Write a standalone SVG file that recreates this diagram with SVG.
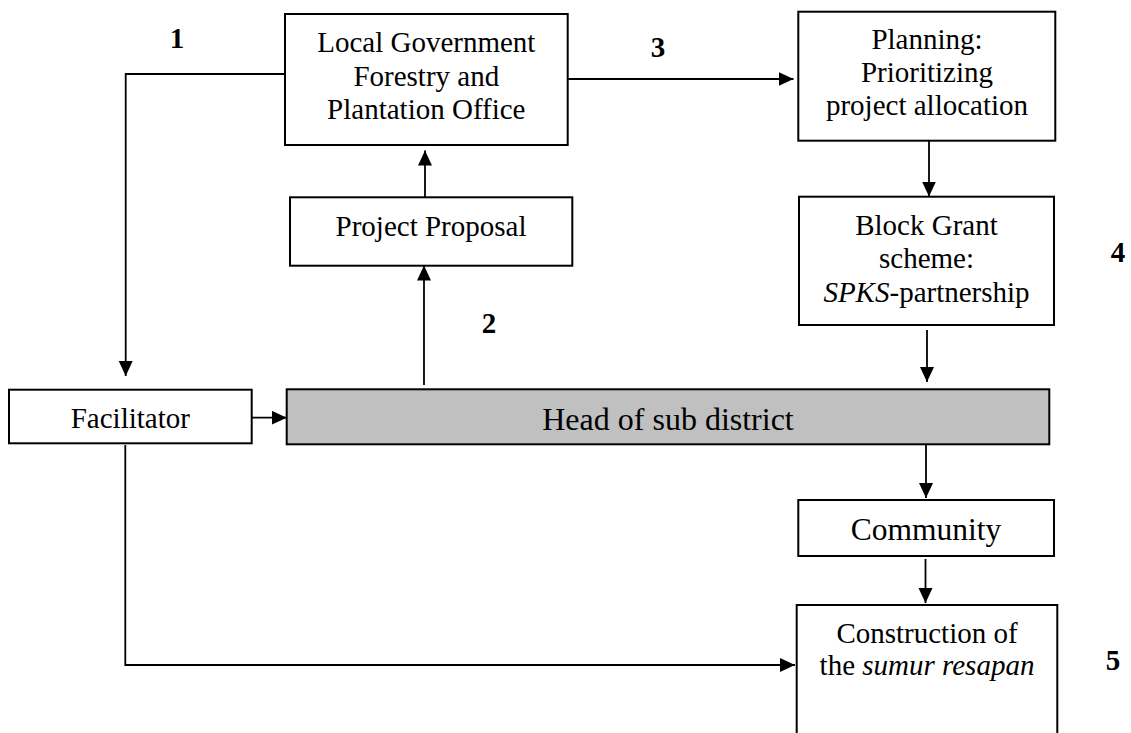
<svg xmlns="http://www.w3.org/2000/svg" width="1131" height="733" viewBox="0 0 1131 733">
  <defs>
    <style>
      .box { fill: #ffffff; stroke: #000000; stroke-width: 2; }
      .shaded { fill: #c0c0c0; stroke: #000000; stroke-width: 2; }
      .lbl { font-family: "Liberation Serif", "Times New Roman", serif; font-size: 29px; fill: #000000; text-anchor: middle; }
      .num { font-family: "Liberation Serif", "Times New Roman", serif; font-size: 29px; font-weight: bold; fill: #000000; text-anchor: middle; }
      .wire { fill: none; stroke: #000000; stroke-width: 1.8; }
      .arrow { marker-end: url(#head); }
    </style>
    <marker id="head" markerUnits="userSpaceOnUse" markerWidth="16" markerHeight="16" refX="15" refY="7" orient="auto">
      <path d="M0,0 L15,7 L0,14 Z" fill="#000000"/>
    </marker>
  </defs>
  <rect width="1131" height="733" fill="#ffffff"/>

  <!-- connectors -->
  <g id="connectors">
    <path class="wire arrow" d="M289,74 L125.7,74 L125.7,376"/>
    <path class="wire arrow" d="M567.7,79 L793.5,79"/>
    <path class="wire arrow" d="M425,197.3 L425,150.5"/>
    <path class="wire arrow" d="M424,385 L424,265.5"/>
    <path class="wire arrow" d="M929,140.7 L929,196.5"/>
    <path class="wire arrow" d="M927,330 L927,382"/>
    <path class="wire arrow" d="M248.3,417.7 L286.7,417.7"/>
    <path class="wire arrow" d="M926,444.3 L926,498"/>
    <path class="wire arrow" d="M925.5,559 L925.5,603"/>
    <path class="wire arrow" d="M125.3,445 L125.3,665 L795,665"/>
  </g>

  <!-- step numbers -->
  <g id="steps">
    <text class="num" x="177" y="48">1</text>
    <text class="num" x="489" y="333">2</text>
    <text class="num" x="658" y="57">3</text>
    <text class="num" x="1118" y="262">4</text>
    <text class="num" x="1113" y="670">5</text>
  </g>

  <g id="forestry-office">
    <rect class="box" x="285" y="14" width="282.7" height="131"/>
    <text class="lbl" x="426.3" y="52.3">Local Government</text>
    <text class="lbl" x="426.3" y="86">Forestry and</text>
    <text class="lbl" x="426.3" y="119.3">Plantation Office</text>
  </g>

  <g id="planning">
    <rect class="box" x="798.3" y="11.7" width="257" height="129"/>
    <text class="lbl" x="927" y="49">Planning:</text>
    <text class="lbl" x="927" y="82">Prioritizing</text>
    <text class="lbl" x="927" y="115">project allocation</text>
  </g>

  <g id="project-proposal">
    <rect class="box" x="290" y="197.3" width="282.3" height="68.4"/>
    <text class="lbl" x="431" y="236">Project Proposal</text>
  </g>

  <g id="block-grant">
    <rect class="box" x="799" y="196.7" width="255" height="128.3"/>
    <text class="lbl" x="926.5" y="235">Block Grant</text>
    <text class="lbl" x="926.5" y="268">scheme:</text>
    <text class="lbl" x="926.5" y="301.7"><tspan font-style="italic">SPKS</tspan>-partnership</text>
  </g>

  <g id="facilitator">
    <rect class="box" x="9" y="389.7" width="242.7" height="53.6"/>
    <text class="lbl" x="130.3" y="428.3">Facilitator</text>
  </g>

  <g id="head-of-sub-district">
    <rect class="shaded" x="286.7" y="389.3" width="762.6" height="55"/>
    <text class="lbl" x="668" y="430" style="font-size:32px">Head of sub district</text>
  </g>

  <g id="community">
    <rect class="box" x="798.3" y="500" width="255.7" height="56"/>
    <text class="lbl" x="926" y="540" style="font-size:31.5px">Community</text>
  </g>

  <g id="construction">
    <rect class="box" x="796.7" y="605" width="260.6" height="140"/>
    <text class="lbl" x="927" y="643.3">Construction of</text>
    <text class="lbl" x="927" y="675">the <tspan font-style="italic">sumur resapan</tspan></text>
  </g>
</svg>
